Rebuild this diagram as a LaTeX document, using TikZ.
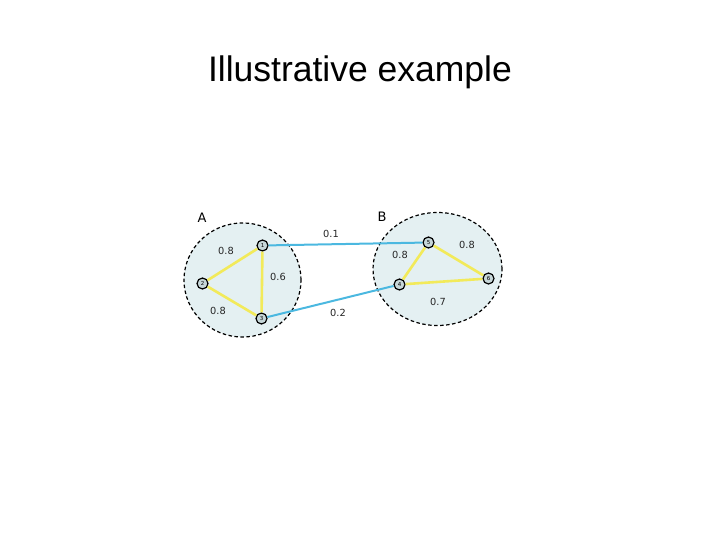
\documentclass[tikz,border=0pt]{standalone}
\usepackage{fontspec}
\usetikzlibrary{shapes.geometric}
\setmainfont{Liberation Sans}
\newfontfamily\labfont{DejaVu Sans}
\definecolor{regionfill}{HTML}{E4F0F2}
\definecolor{nodefill}{HTML}{C6D6D8}
\definecolor{linkblue}{HTML}{4BB8E0}
\definecolor{edgeyellow}{HTML}{F2EA5A}
\tikzset{
  region/.style={draw=black, line width=1.2pt, fill=regionfill, dash pattern=on 3.5pt off 2.5pt},
  vert/.style={circle, draw=black, line width=1.2pt, fill=nodefill, minimum size=11pt, inner sep=0pt, font=\labfont\fontsize{5.5}{6}\selectfont},
  inedge/.style={draw=edgeyellow, line width=2.6pt},
  outedge/.style={draw=linkblue, line width=2pt},
  wlab/.style={font=\labfont\fontsize{9.8}{11}\selectfont, text=black!85},
  grouplab/.style={font=\labfont\fontsize{13}{14}\selectfont}
}
\begin{document}
\begin{tikzpicture}[x=1pt,y=-1pt]
\useasboundingbox (0,0) rectangle (720,540);
\node[anchor=base, font=\fontsize{35.5}{40}\selectfont] (title) at (360,82) {Illustrative example};
\node[region, ellipse, minimum width=117pt, minimum height=114pt, inner sep=0pt] (A) at (242.5,280) {};
\node[region, ellipse, minimum width=129pt, minimum height=113pt, inner sep=0pt] (B) at (437.5,269) {};
\node[grouplab] (la) at (202,218) {A};
\node[grouplab] (lb) at (382,217) {B};
\node[vert] (n1) at (262.5,245.5) {1};
\node[vert] (n2) at (202.5,283.5) {2};
\node[vert] (n3) at (261.5,318.5) {3};
\node[vert] (n4) at (399.5,284.5) {4};
\node[vert] (n5) at (428.5,242.5) {5};
\node[vert] (n6) at (488.5,278.5) {6};
\draw[inedge] (n1) -- (n2);
\draw[inedge] (n2) -- (n3);
\draw[inedge] (n1) -- (n3);
\draw[inedge] (n4) -- (n5);
\draw[inedge] (n5) -- (n6);
\draw[inedge] (n4) -- (n6);
\draw[outedge] (n1) -- (n5);
\draw[outedge] (n3) -- (n4);
\node[wlab] (w12) at (226,251) {0.8};
\node[wlab] (w13) at (278,277) {0.6};
\node[wlab] (w23) at (218,311) {0.8};
\node[wlab] (w15) at (331,234) {0.1};
\node[wlab] (w34) at (338,313) {0.2};
\node[wlab] (w45) at (400,255) {0.8};
\node[wlab] (w56) at (467,245) {0.8};
\node[wlab] (w46) at (438,302) {0.7};
\end{tikzpicture}
\end{document}
